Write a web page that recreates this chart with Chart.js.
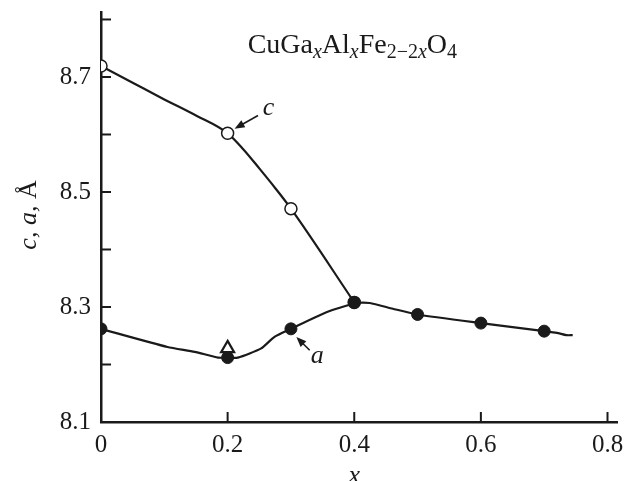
<!DOCTYPE html>
<html>
<head>
<meta charset="utf-8">
<script src="https://cdn.jsdelivr.net/npm/chart.js@4.4.1/dist/chart.umd.min.js"></script>
<style>
  body { margin: 0; background: #fff; }
  #wrap { width: 628px; height: 481px; }
</style>
</head>
<body>
<div id="wrap"><canvas id="chart"></canvas></div>
<script>
// markers
const cX = [0, 0.2, 0.3, 0.4];
const cVals = [8.719, 8.602, 8.471, 8.308];
const aX = [0, 0.2, 0.3, 0.4, 0.5, 0.6, 0.7];
const aVals = [8.262, 8.212, 8.262, 8.308, 8.287, 8.272, 8.258];
const triX = [0.2];
const triVals = [8.228];

// hand drawn curves
const cLineX = [0, 0.05, 0.1, 0.15, 0.2, 0.225, 0.25, 0.275, 0.3, 0.4];
const cLineVals = [8.719, 8.690, 8.661, 8.633, 8.602, 8.574, 8.541, 8.507, 8.471, 8.308];
const aLineX = [0, 0.105, 0.148, 0.185, 0.2, 0.216, 0.253, 0.274, 0.3, 0.356, 0.4035, 0.4245, 0.461, 0.5, 0.6, 0.7, 0.72, 0.735, 0.745];
const aLineVals = [8.262, 8.2305, 8.222, 8.212, 8.212, 8.212, 8.228, 8.248, 8.262, 8.291, 8.307, 8.307, 8.297, 8.287, 8.272, 8.258, 8.255, 8.251, 8.251];

const xTicks = [0, 0.2, 0.4, 0.6, 0.8];
const yTicks = [8.1, 8.2, 8.3, 8.4, 8.5, 8.6, 8.7, 8.8];

const serif = '"Liberation Serif", "DejaVu Serif", serif';
const ink = '#1a1a1a';

function pts(xs, ys) {
  return xs.map((x, i) => ({ x: x, y: ys[i] }));
}

// inward ticks, titles, formula and the c / a arrows
const decor = {
  id: 'decor',
  afterDatasetsDraw(chart) {
    const ctx = chart.ctx;
    const xs = chart.scales.x, ys = chart.scales.y;
    const area = chart.chartArea;
    ctx.save();
    ctx.strokeStyle = ink;
    ctx.lineWidth = 2;
    xTicks.forEach(v => {
      if (v === 0) return;
      const px = xs.getPixelForValue(v);
      ctx.beginPath();
      ctx.moveTo(px, area.bottom);
      ctx.lineTo(px, area.bottom - 10);
      ctx.stroke();
    });
    yTicks.forEach(v => {
      if (Math.abs(v - 8.1) < 1e-6) return;
      const py = ys.getPixelForValue(v);
      ctx.beginPath();
      ctx.moveTo(area.left, py);
      ctx.lineTo(area.left + 10, py);
      ctx.stroke();
    });

    // arrows
    function arrow(x1, y1, x2, y2) {
      const ax = xs.getPixelForValue(x1), ay = ys.getPixelForValue(y1);
      const bx = xs.getPixelForValue(x2), by = ys.getPixelForValue(y2);
      const ang = Math.atan2(by - ay, bx - ax);
      ctx.lineWidth = 1.6;
      ctx.beginPath();
      ctx.moveTo(ax, ay);
      ctx.lineTo(bx - 6 * Math.cos(ang), by - 6 * Math.sin(ang));
      ctx.stroke();
      ctx.beginPath();
      ctx.moveTo(bx, by);
      ctx.lineTo(bx - 10 * Math.cos(ang) + 4 * Math.sin(ang), by - 10 * Math.sin(ang) - 4 * Math.cos(ang));
      ctx.lineTo(bx - 10 * Math.cos(ang) - 4 * Math.sin(ang), by - 10 * Math.sin(ang) + 4 * Math.cos(ang));
      ctx.closePath();
      ctx.fillStyle = ink;
      ctx.fill();
    }
    arrow(0.248, 8.633, 0.211, 8.610);
    arrow(0.3296, 8.2247, 0.3086, 8.2478);

    ctx.fillStyle = ink;
    ctx.textBaseline = 'alphabetic';
    ctx.textAlign = 'left';
    ctx.font = 'italic 26px ' + serif;
    ctx.fillText('c', xs.getPixelForValue(0.2553), ys.getPixelForValue(8.6334));
    ctx.fillText('a', xs.getPixelForValue(0.3312), ys.getPixelForValue(8.202));

    // formula
    let tx = xs.getPixelForValue(0.2316);
    const base = ys.getPixelForValue(8.741);
    const parts = [
      ['CuGa', 'normal', 28, 0],
      ['x', 'italic', 20, 5],
      ['Al', 'normal', 28, 0],
      ['x', 'italic', 20, 5],
      ['Fe', 'normal', 28, 0],
      ['2\u22122', 'normal', 20, 5],
      ['x', 'italic', 20, 5],
      ['O', 'normal', 28, 0],
      ['4', 'normal', 20, 5]
    ];
    parts.forEach(p => {
      ctx.font = p[1] + ' ' + p[2] + 'px ' + serif;
      ctx.fillText(p[0], tx, base + p[3]);
      tx += ctx.measureText(p[0]).width;
    });

    // axis titles
    ctx.font = 'italic 26px ' + serif;
    ctx.textAlign = 'center';
    ctx.fillText('x', xs.getPixelForValue(0.4), 483);
    ctx.save();
    ctx.translate(36, 215);
    ctx.rotate(-Math.PI / 2);
    ctx.font = 'italic 26px ' + serif;
    const s1 = 'c, a, ';
    const w1 = ctx.measureText(s1).width;
    ctx.font = 'normal 26px ' + serif;
    const w2 = ctx.measureText('\u00c5').width;
    ctx.textAlign = 'left';
    ctx.font = 'italic 26px ' + serif;
    ctx.fillText(s1, -(w1 + w2) / 2, 0);
    ctx.font = 'normal 26px ' + serif;
    ctx.fillText('\u00c5', -(w1 + w2) / 2 + w1, 0);
    ctx.restore();
    ctx.restore();
  }
};

new Chart(document.getElementById('chart'), {
  type: 'scatter',
  data: {
    datasets: [
      {
        label: 'a',
        data: pts(aX, aVals),
        pointRadius: 6,
        pointBackgroundColor: ink,
        pointBorderColor: ink,
        pointBorderWidth: 1,
        showLine: false,
        order: 0
      },
      {
        label: 'c',
        data: pts(cX, cVals),
        pointRadius: 6,
        pointBackgroundColor: '#fff',
        pointBorderColor: ink,
        pointBorderWidth: 1.5,
        showLine: false,
        order: 0
      },
      {
        label: 'triangle',
        data: pts(triX, triVals),
        pointStyle: 'triangle',
        pointRadius: 7.5,
        pointBackgroundColor: '#fff',
        pointBorderColor: ink,
        pointBorderWidth: 2.2,
        showLine: false,
        order: 1
      },
      {
        label: 'c curve',
        data: pts(cLineX, cLineVals),
        showLine: true,
        borderColor: ink,
        borderWidth: 2.2,
        pointRadius: 0,
        cubicInterpolationMode: 'monotone',
        order: 5
      },
      {
        label: 'a curve',
        data: pts(aLineX, aLineVals),
        showLine: true,
        borderColor: ink,
        borderWidth: 2.2,
        pointRadius: 0,
        tension: 0.2,
        order: 5
      }
    ]
  },
  options: {
    responsive: true,
    maintainAspectRatio: false,
    animation: false,
    layout: { padding: { top: 12, right: 11, left: 0, bottom: 0 } },
    plugins: {
      legend: { display: false },
      tooltip: { enabled: false }
    },
    scales: {
      x: {
        type: 'linear',
        min: 0,
        max: 0.815,
        afterBuildTicks: scale => { scale.ticks = xTicks.map(v => ({ value: v })); },
        afterFit: scale => {
          scale.height = 59;
          scale.paddingLeft = 0;
          scale.paddingRight = 0;
        },
        ticks: {
          font: { family: serif, size: 25 },
          color: ink,
          padding: 8,
          maxRotation: 0,
          callback: v => (v === 0 ? '0' : String(Math.round(v * 10) / 10))
        },
        grid: { drawOnChartArea: false, drawTicks: false },
        border: { display: true, color: ink, width: 2.5 }
      },
      y: {
        min: 8.1,
        max: 8.813,
        afterBuildTicks: scale => { scale.ticks = yTicks.map(v => ({ value: v })); },
        afterFit: scale => {
          scale.width = 101;
          scale.paddingTop = 0;
          scale.paddingBottom = 0;
        },
        ticks: {
          font: { family: serif, size: 25 },
          color: ink,
          padding: 10,
          callback: v => (Math.round(v * 10) % 2 === 1 ? v.toFixed(1) : '')
        },
        grid: { drawOnChartArea: false, drawTicks: false },
        border: { display: true, color: ink, width: 2.5 }
      }
    }
  },
  plugins: [decor]
});
</script>
</body>
</html>
